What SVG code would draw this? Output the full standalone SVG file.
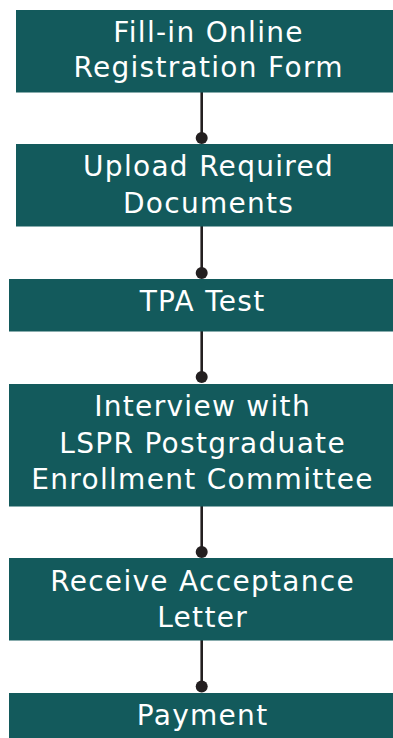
<svg xmlns="http://www.w3.org/2000/svg" width="393" height="738" viewBox="0 0 393 738">
<style>
.box{fill:#135a5c}
.lbl{font-family:"DejaVu Sans","Liberation Sans",sans-serif;font-size:28px;letter-spacing:1.3px;fill:#ffffff;text-anchor:middle}
.ln{stroke:#231f20;stroke-width:2.6;fill:none}
.dot{fill:#231f20}
</style>
<rect width="393" height="738" fill="#ffffff"/>
<g id="connectors">
<line class="ln" x1="201.7" y1="92" x2="201.7" y2="138"/><circle class="dot" cx="201.7" cy="138" r="6"/>
<line class="ln" x1="201.7" y1="226" x2="201.7" y2="273"/><circle class="dot" cx="201.7" cy="273" r="6"/>
<line class="ln" x1="201.7" y1="331" x2="201.7" y2="377"/><circle class="dot" cx="201.7" cy="377" r="6"/>
<line class="ln" x1="201.7" y1="506" x2="201.7" y2="552"/><circle class="dot" cx="201.7" cy="552" r="6"/>
<line class="ln" x1="201.7" y1="640" x2="201.7" y2="686.5"/><circle class="dot" cx="201.7" cy="686.5" r="6"/>
</g>
<g id="n1"><rect class="box" x="16" y="10" width="384" height="82.5"/>
<text class="lbl" x="208.6" y="41.7">Fill-in Online</text><text class="lbl" x="208.6" y="77.3">Registration Form</text></g>
<g id="n2"><rect class="box" x="16" y="144" width="384" height="82.5"/>
<text class="lbl" x="208.6" y="176">Upload Required</text><text class="lbl" x="208.6" y="213.3">Documents</text></g>
<g id="n3"><rect class="box" x="9" y="279" width="386" height="52.5"/>
<text class="lbl" x="202.6" y="311">TPA Test</text></g>
<g id="n4"><rect class="box" x="9" y="384" width="386" height="122.5"/>
<text class="lbl" x="202.6" y="415.7">Interview with</text><text class="lbl" x="202.6" y="452.7">LSPR Postgraduate</text><text class="lbl" x="202.6" y="489.3">Enrollment Committee</text></g>
<g id="n5"><rect class="box" x="9" y="558" width="386" height="82.5"/>
<text class="lbl" x="202.6" y="590.7">Receive Acceptance</text><text class="lbl" x="202.6" y="627.3">Letter</text></g>
<g id="n6"><rect class="box" x="9" y="693" width="386" height="50"/>
<text class="lbl" x="202.6" y="725">Payment</text></g>
</svg>
